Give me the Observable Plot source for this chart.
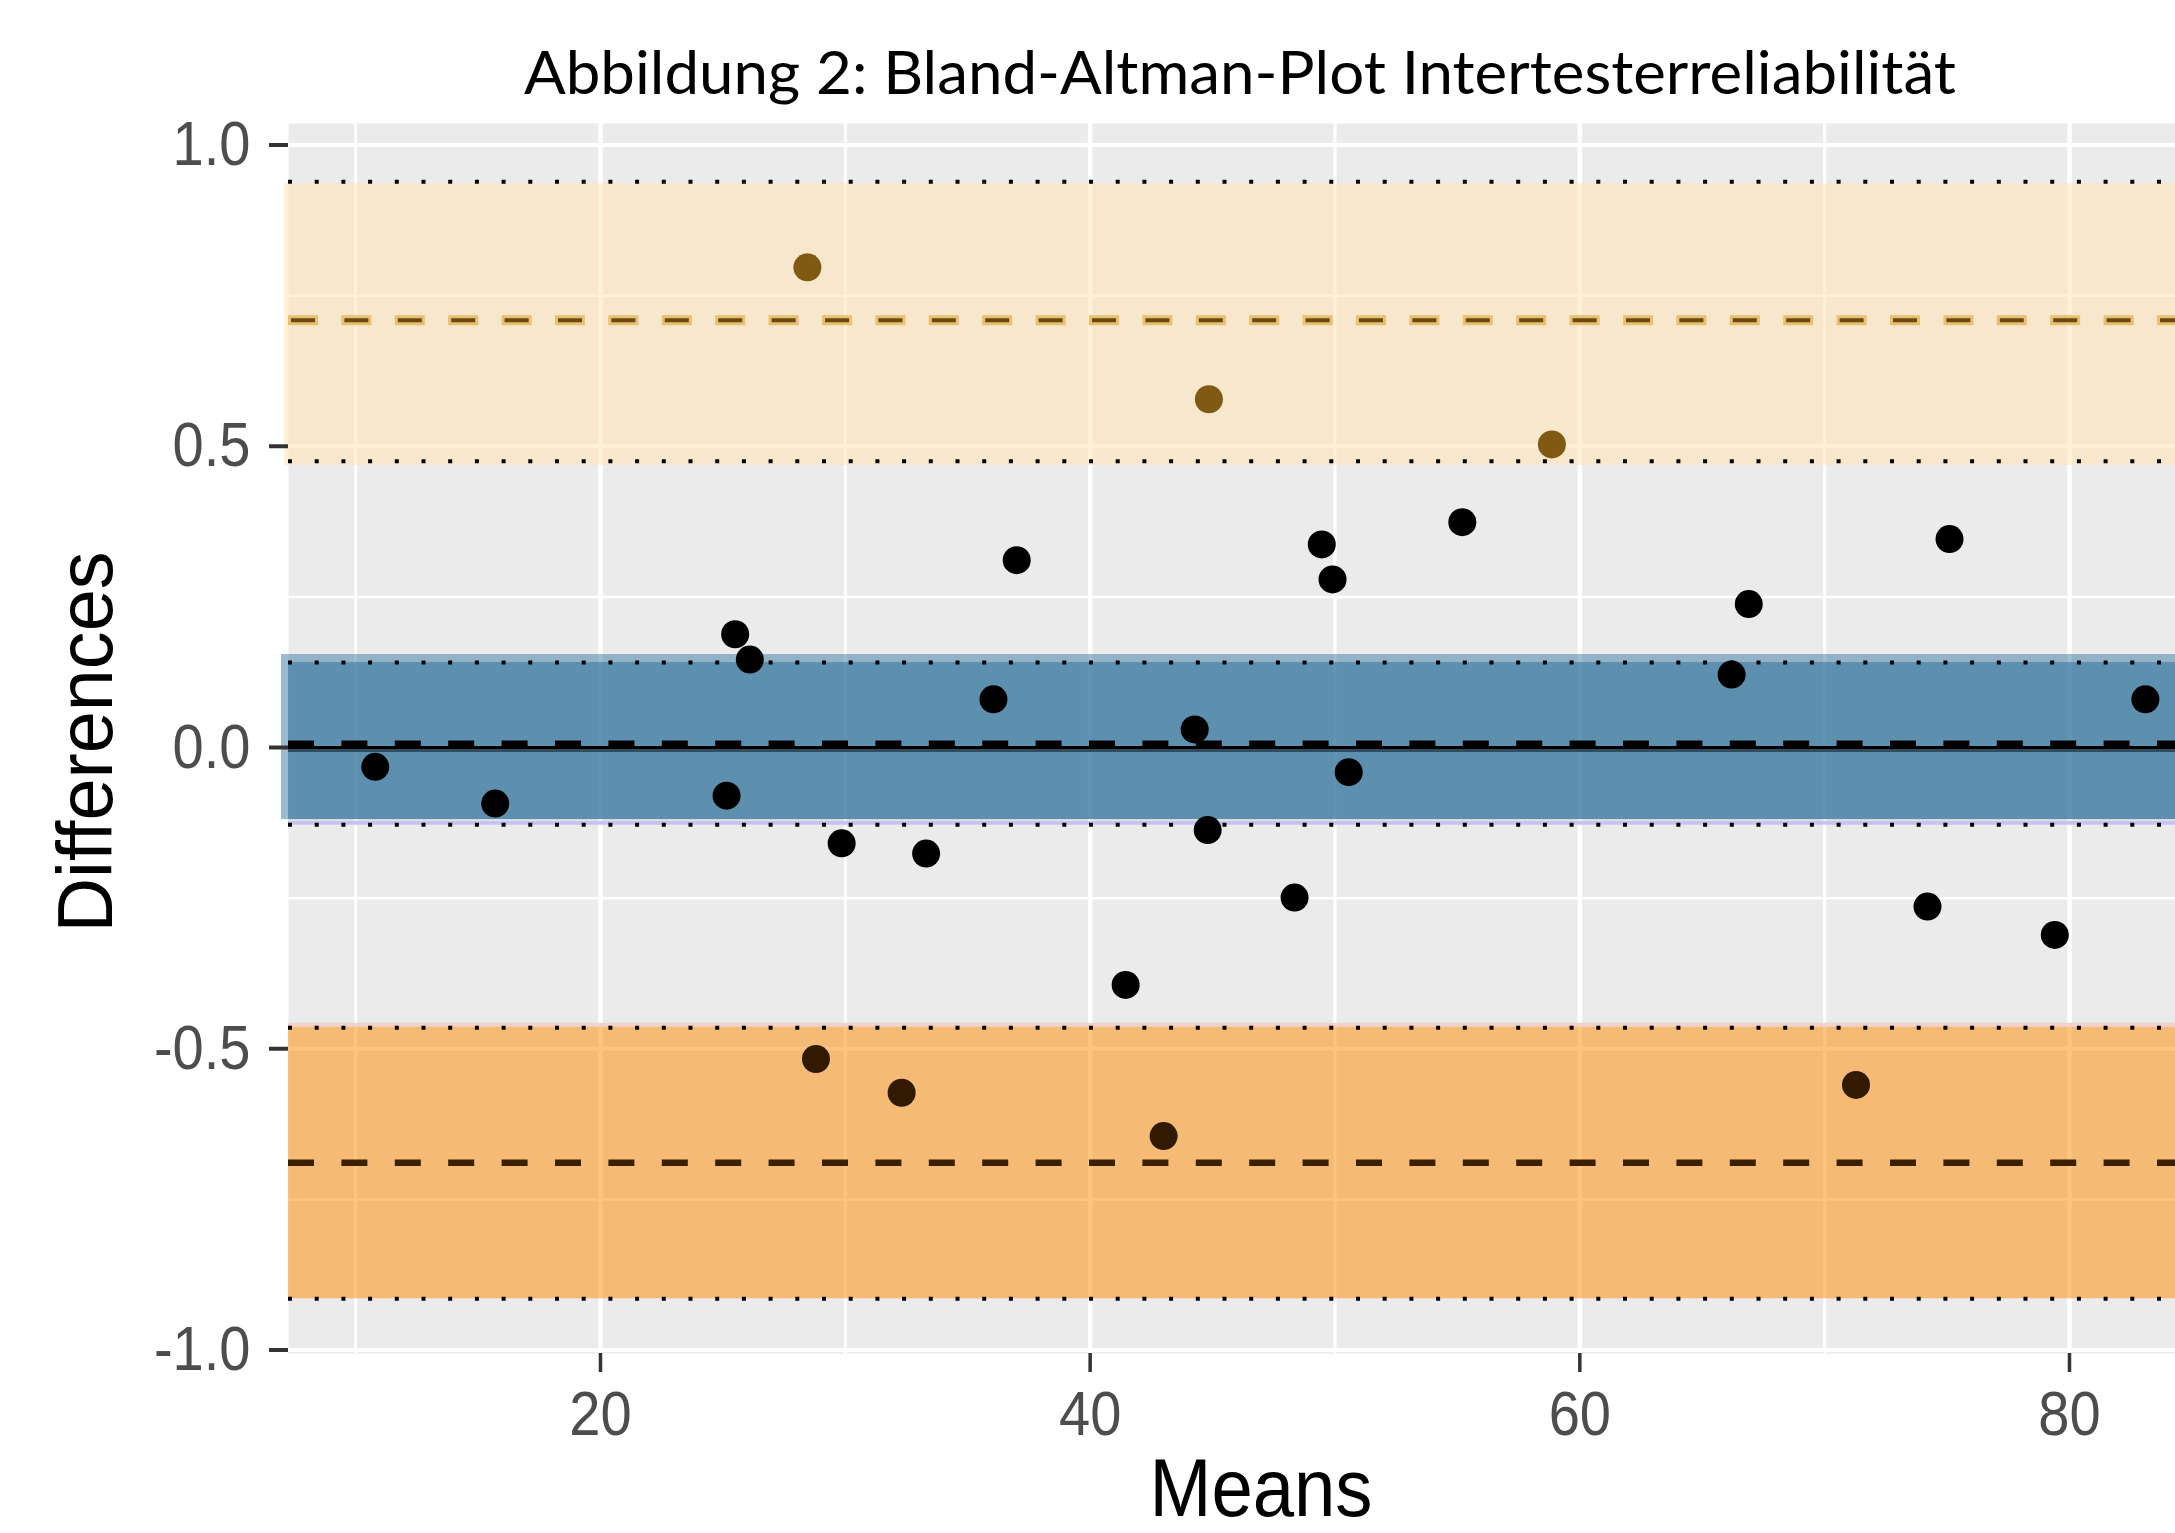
<!DOCTYPE html>
<html>
<head>
<meta charset="utf-8">
<script src="https://cdn.jsdelivr.net/npm/d3@7"></script>
<script src="https://cdn.jsdelivr.net/npm/@observablehq/plot@0.6"></script>
<style>
  body { margin: 0; background: #fff; }
  #chart { position: relative; width: 2175px; height: 1533px; overflow: hidden; }
  g[aria-label="y-axis tick"], g[aria-label="x-axis tick"] { stroke: #333333; }
  g[aria-label="y-axis tick label"], g[aria-label="x-axis tick label"] { fill: #4d4d4d; }
</style>
</head>
<body>
<div id="chart"></div>
<script>
// ---- data ----
const means = [10.8, 15.7, 28.45, 25.5, 26.1, 25.15, 28.8, 29.85, 32.3, 33.3,
               36.05, 37.0, 41.45, 43.0, 44.27, 44.85, 44.8, 48.35, 49.46, 49.9,
               50.56, 55.2, 58.86, 66.2, 66.9, 71.28, 74.2, 75.1, 79.4, 83.1];
const diffs = [-0.032, -0.093, 0.797, 0.188, 0.146, -0.080, -0.517, -0.159, -0.573, -0.176,
               0.080, 0.311, -0.394, -0.645, 0.030, 0.578, -0.137, -0.249, 0.337, 0.279,
               -0.041, 0.374, 0.503, 0.121, 0.238, -0.560, -0.264, 0.346, -0.311, 0.080];

const meanDiff = 0.005;
const upperLoA = 0.709;
const lowerLoA = -0.689;
const meanCI = [-0.128, 0.141];
const upperCI = [0.475, 0.939];
const lowerCI = [-0.915, -0.465];

const xMajor = [20, 40, 60, 80];
const xMinor = [10, 30, 50, 70];
const yMajor = [-1.0, -0.5, 0.0, 0.5, 1.0];
const yMinor = [-0.75, -0.25, 0.25, 0.75];

const titleText = "Abbildung 2: Bland-Altman-Plot Intertesterreliabilität";
const xLabel = "Means";
const yLabel = "Differences";

// ---- build ----
const points = means.map((m, i) => ({mean: m, diff: diffs[i]}));
const pointColor = d => d.diff > upperCI[0] ? "#805a12" : d.diff < lowerCI[1] ? "#321a02" : "#000000";

const dash = "26,27.4";
const dots = "4,22.7";

const svg = Plot.plot({
  width: 2175,
  height: 1533,
  marginLeft: 288,
  marginRight: 0,
  marginTop: 123,
  marginBottom: 180,
  x: {domain: [7.257, 84.33]},
  y: {domain: [-1.0058, 1.0357]},
  color: {type: "identity"},
  style: {fontFamily: "'Liberation Sans', Arial, sans-serif", background: "white", overflow: "visible"},
  marks: [
    Plot.frame({fill: "#EBEBEB", stroke: null}),
    Plot.ruleY(yMinor, {stroke: "white", strokeWidth: 2.5}),
    Plot.ruleX(xMinor, {stroke: "white", strokeWidth: 3}),
    Plot.ruleY(yMajor, {stroke: "white", strokeWidth: 4}),
    Plot.ruleX(xMajor, {stroke: "white", strokeWidth: 4.5}),

    // bands
    Plot.rect([upperCI], {y1: d => d[0], y2: d => d[1], fill: "#FFE4B5", fillOpacity: 0.55, insetTop: 2, insetBottom: -4, insetLeft: -4}),
    Plot.rect([lowerCI], {y1: d => d[0], y2: d => d[1], fill: "#FF8C00", fillOpacity: 0.5, insetTop: -1}),
    Plot.rect([meanCI], {y1: d => d[0], y2: d => d[1], fill: "#3a7aa0", fillOpacity: 0.5, insetTop: -8, insetBottom: 5, insetLeft: -7}),
    Plot.rect([meanCI], {y1: d => d[0], y2: d => d[1], fill: "#3a7aa0", fillOpacity: 0.6, insetBottom: 5}),

    // halo lines
    Plot.ruleY([meanCI[0]], {stroke: "#c4c4f2", strokeWidth: 4, dy: -2}),
    Plot.ruleY([lowerCI[1]], {stroke: "#f1d2cf", strokeWidth: 4, dy: -3}),

    // CI dotted lines
    Plot.ruleY([upperCI[0], upperCI[1], meanCI[0], meanCI[1], lowerCI[0], lowerCI[1]],
               {stroke: "#000", strokeWidth: 4, strokeDasharray: dots}),

    // LoA dashed lines
    Plot.ruleY([upperLoA], {stroke: "#E8C070", strokeWidth: 10, strokeDasharray: "30,23.4"}),
    Plot.ruleY([upperLoA], {stroke: "#6A4A10", strokeWidth: 4, strokeDasharray: "24,29.4", strokeDashoffset: -3}),
    Plot.ruleY([lowerLoA], {stroke: "#3b2000", strokeWidth: 6.5, strokeDasharray: dash}),

    // zero line and mean line
    Plot.ruleY([0], {stroke: "#2f4d5e", strokeWidth: 5, dy: 2}),
    Plot.ruleY([0], {stroke: "#000", strokeWidth: 3}),
    Plot.ruleY([meanDiff], {stroke: "#000", strokeWidth: 8, strokeDasharray: dash}),

    // points
    Plot.dot(points, {x: "mean", y: "diff", r: 14, fill: pointColor, stroke: null}),

    // axes
    Plot.axisY(yMajor, {tickSize: 19, tickPadding: 19, fontSize: 63, tickFormat: d => d.toFixed(1), label: null, strokeWidth: 4}),
    Plot.axisX(xMajor, {tickSize: 19, tickPadding: 18, fontSize: 63, tickFormat: d => String(d), label: null, strokeWidth: 3.5})
  ]
});

// narrow the tick label glyphs horizontally like the reference
svg.querySelectorAll('g[aria-label="y-axis tick label"] text, g[aria-label="x-axis tick label"] text').forEach(t => {
  const xa = t.getAttribute("x");
  let extra = "";
  if (xa && !/em$/.test(xa)) { extra = ` translate(${+xa},0)`; t.removeAttribute("x"); }
  const tr = t.getAttribute("transform") || "";
  t.setAttribute("transform", `${tr}${extra} scale(0.89,1)`);
});

const s = d3.select(svg);
s.append("text")
  .attr("x", 1240).attr("y", 94)
  .attr("text-anchor", "middle")
  .attr("font-family", "Lato, 'Open Sans', sans-serif")
  .attr("font-size", 60)
  .attr("fill", "#000")
  .attr("textLength", 1432)
  .attr("lengthAdjust", "spacingAndGlyphs")
  .text(titleText);

s.append("text")
  .attr("x", 1261).attr("y", 1516)
  .attr("text-anchor", "middle")
  .attr("font-family", "'Liberation Sans', Arial, sans-serif")
  .attr("font-size", 82)
  .attr("fill", "#000")
  .attr("textLength", 223)
  .attr("lengthAdjust", "spacingAndGlyphs")
  .text(xLabel);

s.append("text")
  .attr("transform", "translate(112,742) rotate(-90)")
  .attr("text-anchor", "middle")
  .attr("font-family", "'Liberation Sans', Arial, sans-serif")
  .attr("font-size", 78)
  .attr("fill", "#000")
  .attr("textLength", 381)
  .attr("lengthAdjust", "spacingAndGlyphs")
  .text(yLabel);

document.getElementById("chart").appendChild(svg);
</script>
</body>
</html>
